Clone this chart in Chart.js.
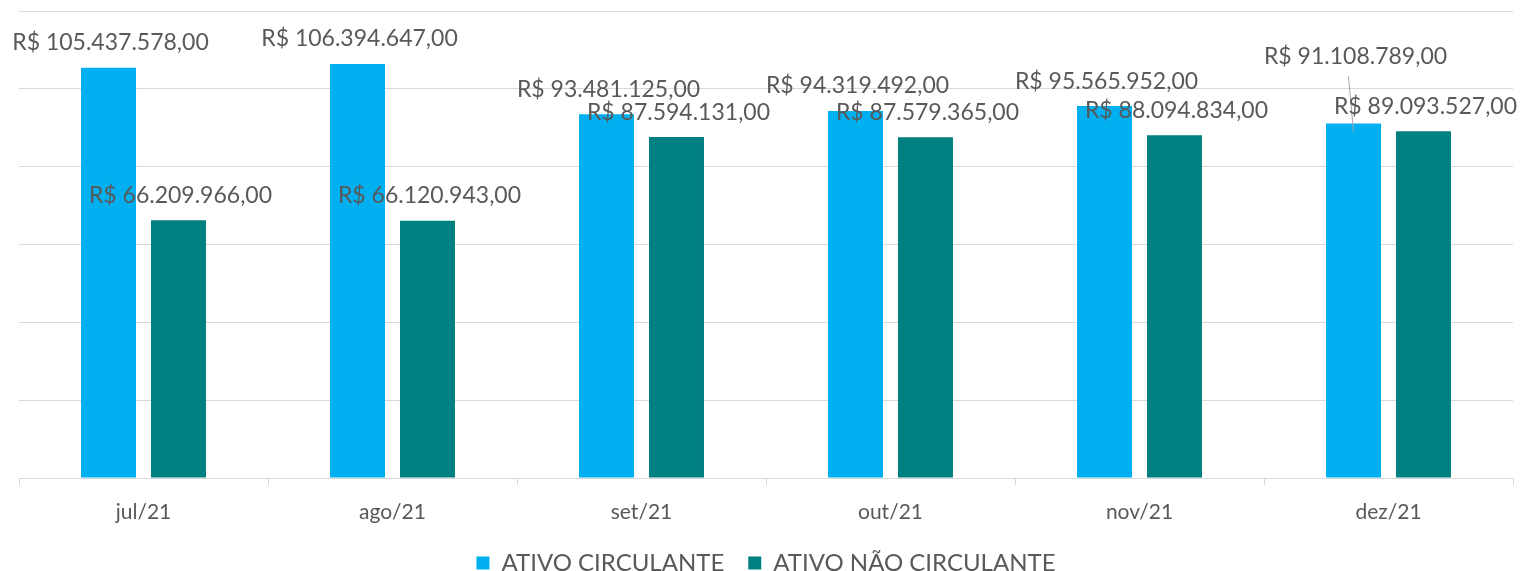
<!DOCTYPE html>
<html>
<head>
<meta charset="utf-8">
<script src="https://cdn.jsdelivr.net/npm/chart.js@4.4.0/dist/chart.umd.min.js"></script>
<style>
html,body{margin:0;padding:0;background:#fff;}
#wrap{width:1523px;height:571px;position:relative;}
</style>
</head>
<body>
<div id="wrap"><canvas id="c"></canvas></div>
<script>
const categories = ['jul/21','ago/21','set/21','out/21','nov/21','dez/21'];
const ativoCirculante = [105437578, 106394647, 93481125, 94319492, 95565952, 91108789];
const ativoNaoCirculante = [66209966, 66120943, 87594131, 87579365, 88094834, 89093527];
const seriesNames = ['ATIVO CIRCULANTE','ATIVO NÃO CIRCULANTE'];
const yMax = 120000000;
const yStep = 20000000;

const FONT = 'Lato';
const TXT = '#595959';

function brl(v){
  const s = Math.round(v).toString().replace(/\B(?=(\d{3})+(?!\d))/g,'.');
  return 'R$ ' + s + ',00';
}

const labelPlugin = {
  id:'barLabels',
  afterDatasetsDraw(chart, args, opts){
    const ctx = chart.ctx;
    ctx.save();
    ctx.font = opts.size + 'px ' + FONT;
    ctx.fillStyle = TXT;
    ctx.textAlign = 'center';
    ctx.textBaseline = 'middle';
    chart.data.datasets.forEach((ds, di) => {
      const meta = chart.getDatasetMeta(di);
      meta.data.forEach((bar, i) => {
        const key = di + '-' + i;
        const lifted = opts.leader[key];
        let y = bar.y - opts.gap;
        if (lifted) {
          y = bar.y - lifted;
          ctx.strokeStyle = '#a6a6a6';
          ctx.lineWidth = 1;
          ctx.beginPath();
          ctx.moveTo(bar.x - 5, y + 20);
          ctx.lineTo(bar.x, bar.y + 9);
          ctx.stroke();
        }
        ctx.fillText(brl(ds.data[i]), bar.x + 2, y);
      });
    });
    ctx.restore();
  }
};

new Chart(document.getElementById('c'), {
  type:'bar',
  data:{
    labels: categories,
    datasets:[
      {label: seriesNames[0], data: ativoCirculante, backgroundColor:'#00B0F0', borderWidth:0},
      {label: seriesNames[1], data: ativoNaoCirculante, backgroundColor:'#008080', borderWidth:0}
    ]
  },
  options:{
    responsive:true,
    maintainAspectRatio:false,
    animation:false,
    layout:{padding:{left:19, right:10, top:11, bottom:0}},
    datasets:{bar:{categoryPercentage:0.562, barPercentage:0.786}},
    scales:{
      x:{
        offset:true,
        grid:{offset:true, drawOnChartArea:false, drawTicks:true, tickLength:7, color:'#d9d9d9'},
        border:{display:true, color:'#d9d9d9'},
        ticks:{color:TXT, font:{family:FONT, size:21}, padding:15},
        afterFit(scale){ scale.height = 49; }
      },
      y:{
        min:0, max:yMax,
        ticks:{display:false, stepSize:yStep},
        grid:{color:'#d9d9d9', drawTicks:false},
        border:{display:false}
      }
    },
    plugins:{
      legend:{
        position:'bottom',
        maxHeight:44,
        labels:{color:TXT, font:{family:FONT, size:24}, boxWidth:13, boxHeight:13, padding:24}
      },
      tooltip:{enabled:false},
      barLabels:{size:23, gap:25, leader:{'0-5':67}}
    }
  },
  plugins:[labelPlugin]
});
</script>
</body>
</html>
